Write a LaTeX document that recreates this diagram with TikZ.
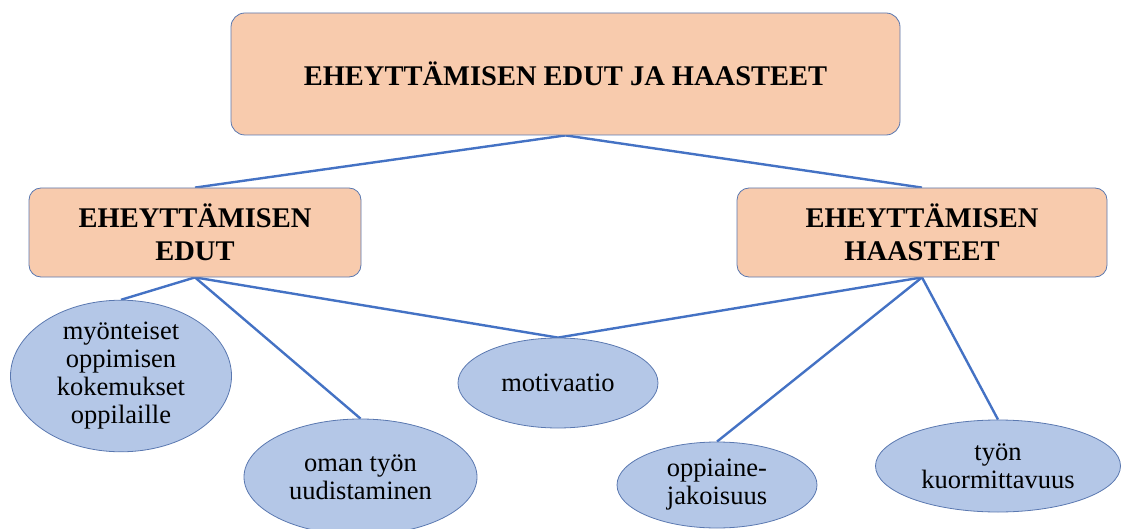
\documentclass[tikz,border=0pt]{standalone}
\usepackage{fontspec}
\setmainfont{Liberation Serif}
\usetikzlibrary{shapes.geometric,backgrounds}
\definecolor{peach}{HTML}{F8CBAD}
\definecolor{lblue}{HTML}{B4C7E7}
\definecolor{lineblue}{HTML}{4472C4}
\definecolor{edgeblue}{HTML}{5A78B0}
\begin{document}
\begin{tikzpicture}[x=1pt,y=-1pt,
  hbox/.style={draw=edgeblue, line width=0.8pt, fill=peach, rounded corners=14pt,
    align=center, font=\fontsize{28.5}{33}\selectfont\bfseries, inner sep=0pt},
  leaf/.style={ellipse, draw=edgeblue, line width=0.8pt, fill=lblue, align=center,
    font=\fontsize{26.5}{28}\selectfont, inner sep=0pt},
  conn/.style={draw=lineblue, line width=2.4pt}]
\useasboundingbox (0,0) rectangle (1123,529);
\node[hbox, minimum width=669pt, minimum height=122pt] (top) at (565.5,74) {EHEYTTÄMISEN EDUT JA HAASTEET};
\node[hbox, minimum width=332pt, minimum height=89pt, rounded corners=12pt] (edut) at (195,232.5) {EHEYTTÄMISEN\\EDUT};
\node[hbox, minimum width=370pt, minimum height=89pt, rounded corners=12pt] (haast) at (922,232.5) {EHEYTTÄMISEN\\HAASTEET};
\node[leaf, minimum width=221pt, minimum height=130pt] (myon) at (121,376) {myönteiset\\oppimisen\\kokemukset\\oppilaille};
\node[leaf, minimum width=233pt, minimum height=116pt] (oman) at (360.5,477) {oman työn\\uudistaminen};
\node[leaf, minimum width=200pt, minimum height=90pt] (moti) at (558,383) {motivaatio};
\node[leaf, minimum width=200pt, minimum height=86pt] (oppi) at (717,485) {oppiaine-\\jakoisuus};
\node[leaf, minimum width=245pt, minimum height=92pt] (tyon) at (998,466) {työn\\kuormittavuus};
\begin{scope}[on background layer]
\draw[conn] (top.south) -- (edut.north);
\draw[conn] (top.south) -- (haast.north);
\draw[conn] (edut.south) -- (myon.north);
\draw[conn] (edut.south) -- (oman.north);
\draw[conn] (edut.south) -- (moti.north);
\draw[conn] (haast.south) -- (moti.north);
\draw[conn] (haast.south) -- (oppi.north);
\draw[conn] (haast.south) -- (tyon.north);
\end{scope}
\end{tikzpicture}
\end{document}
